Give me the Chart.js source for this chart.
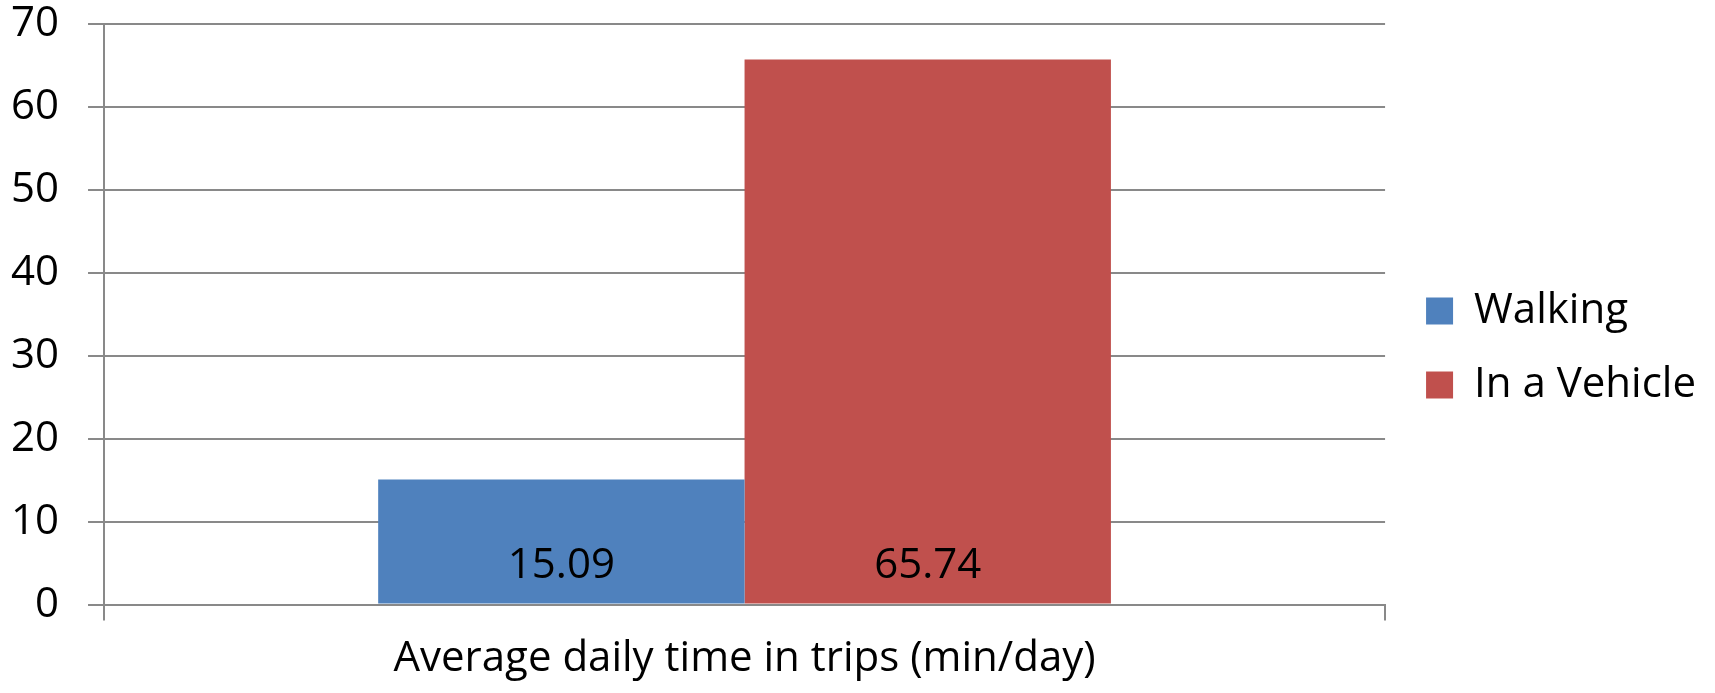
<!DOCTYPE html>
<html>
<head>
<meta charset="utf-8">
<script src="https://cdn.jsdelivr.net/npm/chart.js@4.4.0/dist/chart.umd.min.js"></script>
<style>
  html, body { margin: 0; padding: 0; background: #ffffff; }
  #wrap { width: 1715px; height: 693px; }
</style>
</head>
<body>
<div id="wrap"><canvas id="c" width="1715" height="693"></canvas></div>
<script>
// Average daily time spent in trips, by mode
const categories = ['Average daily time in trips (min/day)'];
const seriesNames = ['Walking', 'In a Vehicle'];
const walkingValues = [15.09];
const vehicleValues = [65.74];
const yTicks = [0, 10, 20, 30, 40, 50, 60, 70];

const FONT = "'Open Sans', 'Noto Sans', sans-serif";
const FONT_SIZE = 42;
const GRID = '#898989';

// Writes each bar's value just above its base
const valueLabels = {
  id: 'valueLabels',
  afterDatasetsDraw(chart) {
    const ctx = chart.ctx;
    ctx.save();
    ctx.font = FONT_SIZE + 'px ' + FONT;
    ctx.fillStyle = '#000000';
    ctx.textAlign = 'center';
    ctx.textBaseline = 'alphabetic';
    chart.data.datasets.forEach((ds, i) => {
      const meta = chart.getDatasetMeta(i);
      meta.data.forEach((bar, j) => {
        ctx.fillText(ds.data[j].toFixed(2), bar.x, bar.base - 26);
      });
    });
    ctx.restore();
  }
};

// Leaves a little more room between the plot and the legend block
const legendOffset = {
  id: 'legendOffset',
  afterLayout(chart) {
    const lg = chart.legend;
    if (!lg) return;
    lg.left += 9; lg.right += 9;
    lg.top += 4; lg.bottom += 4;
  }
};

new Chart(document.getElementById('c'), {
  type: 'bar',
  data: {
    labels: categories,
    datasets: [
      { label: seriesNames[0], data: walkingValues, backgroundColor: '#4F81BD', borderWidth: 0 },
      { label: seriesNames[1], data: vehicleValues, backgroundColor: '#C0504D', borderWidth: 0 }
    ]
  },
  options: {
    responsive: false,
    animation: false,
    devicePixelRatio: 1,
    categoryPercentage: 0.572,
    barPercentage: 1.0,
    layout: { padding: { left: 11, right: 18, top: 0, bottom: 5 } },
    plugins: {
      tooltip: { enabled: false },
      legend: {
        position: 'right',
        align: 'center',
        labels: {
          boxWidth: 27,
          boxHeight: 27,
          padding: 32,
          color: '#000000',
          font: { family: FONT, size: FONT_SIZE }
        }
      }
    },
    scales: {
      x: {
        type: 'category',
        offset: true,
        grid: {
          display: true,
          drawOnChartArea: false,
          drawTicks: true,
          tickLength: 16,
          color: GRID,
          lineWidth: 2
        },
        border: { display: true, color: GRID, width: 2 },
        ticks: { display: false },
        title: {
          display: true,
          text: categories[0],
          color: '#000000',
          padding: { top: 13, bottom: 4 },
          font: { family: FONT, size: FONT_SIZE, lineHeight: 1.2 }
        }
      },
      y: {
        min: 0,
        max: 70,
        afterBuildTicks(axis) { axis.ticks = yTicks.map(v => ({ value: v })); },
        afterFit(axis) {
          // the label gap sits only between labels and tick marks
          const p = axis.options.ticks.padding;
          axis.width -= p;
          axis.paddingTop = Math.max(axis.paddingTop - p, 0);
          axis.paddingBottom = Math.max(axis.paddingBottom - p, 0);
        },
        grid: {
          color: GRID,
          lineWidth: 2,
          drawTicks: true,
          tickLength: 16
        },
        border: { display: true, color: GRID, width: 2 },
        ticks: {
          color: '#000000',
          padding: 29,
          font: { family: FONT, size: FONT_SIZE, lineHeight: 1.15 }
        }
      }
    }
  },
  plugins: [valueLabels, legendOffset]
});
</script>
</body>
</html>
